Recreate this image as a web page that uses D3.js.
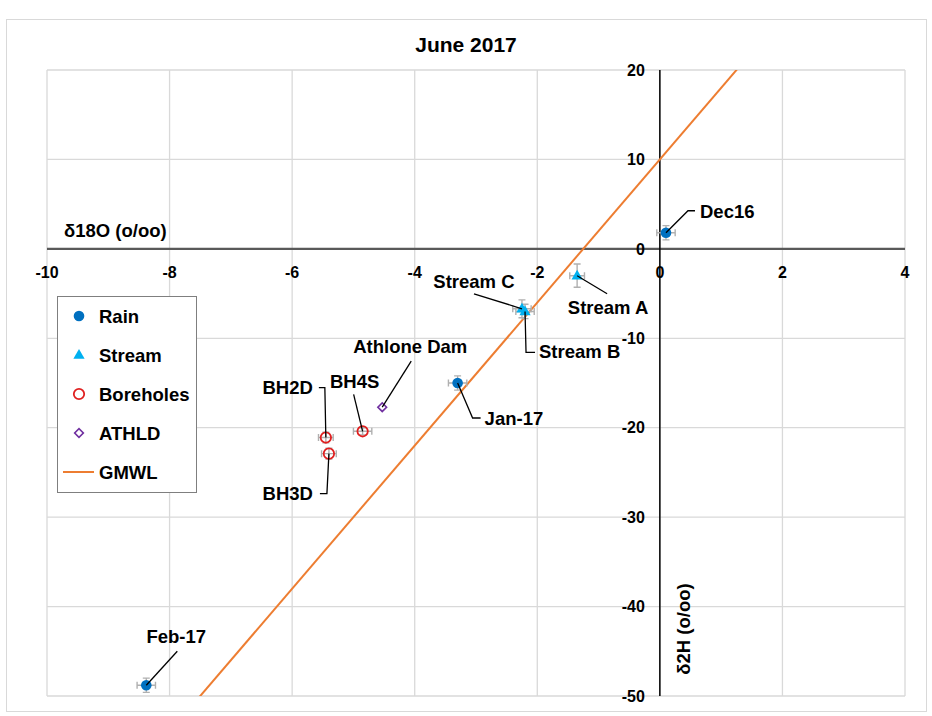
<!DOCTYPE html>
<html>
<head>
<meta charset="utf-8">
<script src="https://d3js.org/d3.v7.min.js"></script>
<style>
  body { margin: 0; background: #fff; }
  text { font-family: Arial, "Liberation Sans", sans-serif; font-weight: bold; fill: #000; }
</style>
</head>
<body>
<div id="chart"></div>
<script>
// sample values (δ18O, δ2H), with error bars
var names  = ["Dec16", "Jan-17", "Feb-17", "Stream A", "Stream B", "Stream C", "BH2D", "BH3D", "BH4S", "Athlone Dam"];
var groups = ["Rain", "Rain", "Rain", "Stream", "Stream", "Stream", "Boreholes", "Boreholes", "Boreholes", "ATHLD"];
var d18O   = [0.1, -3.3, -8.38, -1.35, -2.2, -2.25, -5.45, -5.4, -4.85, -4.53];
var d2H    = [1.8, -15.0, -48.8, -3.0, -7.0, -6.7, -21.1, -22.9, -20.4, -17.7];
var errX   = [0.15, 0.15, 0.15, 0.12, 0.15, 0.15, 0.12, 0.12, 0.15, 0.0];
var errY   = [0.8, 0.8, 0.8, 1.3, 0.8, 1.0, 0.6, 0.6, 0.4, 0.0];

var legendNames = ["Rain", "Stream", "Boreholes", "ATHLD", "GMWL"];
var xTicks = [-10, -8, -6, -4, -2, 0, 2, 4];
var yTicks = [20, 10, 0, -10, -20, -30, -40, -50];
// GMWL: δ2H = 8 δ18O + 10
var gmwlSlope = 8, gmwlIntercept = 10;

var colours = { Rain: "#0070C0", Stream: "#00B0F0", Boreholes: "#E02020", ATHLD: "#7030A0", GMWL: "#ED7D31" };

// label leader lines, pixel offsets from the point
var callouts = {
  "Dec16":       { path: [[22, -22], [29, -22]], text: [34, -21], anchor: "start" },
  "Stream A":    { path: [[30, 18]], text: [31, 32], anchor: "middle" },
  "Stream C":    { path: [[-48, -15]], text: [-48, -27], anchor: "middle" },
  "Stream B":    { path: [[1, 41], [10, 41]], text: [14, 40], anchor: "start" },
  "Jan-17":      { path: [[15, 35], [23, 35]], text: [27, 35], anchor: "start" },
  "Feb-17":      { path: [[31, -34]], text: [30, -49], anchor: "middle" },
  "BH2D":        { path: [[-1, -50], [-7, -50]], text: [-13, -50], anchor: "end" },
  "BH3D":        { path: [[-2, 40], [-9, 40]], text: [-16, 40], anchor: "end" },
  "BH4S":        { path: [[-9, -37]], text: [-8, -50], anchor: "middle" },
  "Athlone Dam": { path: [[29, -46]], text: [28, -61], anchor: "middle" }
};

var W = 932, H = 716;
var plot = { left: 47, right: 905, top: 70, bottom: 696 };

var svg = d3.select("#chart").append("svg")
  .attr("width", W)
  .attr("height", H);

svg.append("rect")
  .attr("x", 6.5).attr("y", 19.5)
  .attr("width", 920).attr("height", 692)
  .attr("fill", "#fff")
  .attr("stroke", "#d9d9d9");

var x = d3.scaleLinear().domain([-10, 4]).range([plot.left, plot.right]);
var y = d3.scaleLinear().domain([-50, 20]).range([plot.bottom, plot.top]);

svg.append("text")
  .attr("x", 466).attr("y", 52)
  .attr("text-anchor", "middle")
  .style("font-size", "21px")
  .text("June 2017");

// gridlines
var grid = svg.append("g").attr("stroke", "#d9d9d9").attr("stroke-width", 1.3);
grid.selectAll(".gx").data(xTicks).enter().append("line")
  .attr("x1", function (d) { return x(d); }).attr("x2", function (d) { return x(d); })
  .attr("y1", plot.top).attr("y2", plot.bottom);
grid.selectAll(".gy").data(yTicks).enter().append("line")
  .attr("y1", function (d) { return y(d); }).attr("y2", function (d) { return y(d); })
  .attr("x1", plot.left).attr("x2", plot.right);

// axes crossing at zero
svg.append("line")
  .attr("x1", plot.left).attr("x2", plot.right)
  .attr("y1", y(0)).attr("y2", y(0))
  .attr("stroke", "#595959").attr("stroke-width", 2.2);
svg.append("line")
  .attr("x1", x(0)).attr("x2", x(0))
  .attr("y1", plot.top).attr("y2", plot.bottom)
  .attr("stroke", "#000").attr("stroke-width", 1.5);

svg.selectAll(".xl").data(xTicks).enter().append("text")
  .attr("x", function (d) { return x(d); })
  .attr("y", y(0) + 29)
  .attr("text-anchor", "middle")
  .style("font-size", "16px")
  .text(function (d) { return d; });

svg.selectAll(".yl").data(yTicks).enter().append("text")
  .attr("x", x(0) - 15)
  .attr("y", function (d) { return y(d); })
  .attr("dy", "0.36em")
  .attr("text-anchor", "end")
  .style("font-size", "16px")
  .text(function (d) { return d; });

svg.append("text")
  .attr("x", 64).attr("y", 237)
  .style("font-size", "18.5px")
  .text("δ18O (o/oo)");

svg.append("text")
  .attr("transform", "translate(690," + 629 + ") rotate(-90)")
  .attr("text-anchor", "middle")
  .style("font-size", "18.5px")
  .text("δ2H (o/oo)");

// GMWL line, clipped to plot area
svg.append("clipPath").attr("id", "clip").append("rect")
  .attr("x", plot.left).attr("y", plot.top)
  .attr("width", plot.right - plot.left).attr("height", plot.bottom - plot.top);
svg.append("line")
  .attr("clip-path", "url(#clip)")
  .attr("x1", x(-10)).attr("y1", y(gmwlSlope * -10 + gmwlIntercept))
  .attr("x2", x(4)).attr("y2", y(gmwlSlope * 4 + gmwlIntercept))
  .attr("stroke", colours.GMWL).attr("stroke-width", 2);

var pts = names.map(function (n, i) {
  return { name: n, group: groups[i], x: d18O[i], y: d2H[i], ex: errX[i], ey: errY[i] };
});

// error bars
var eb = svg.append("g").attr("stroke", "#b0b0b0").attr("stroke-width", 1.4).attr("fill", "none");
pts.forEach(function (p) {
  if (p.ey > 0) {
    var cx = x(p.x), y0 = y(p.y - p.ey), y1 = y(p.y + p.ey);
    eb.append("path").attr("d", "M" + cx + "," + y0 + "V" + y1 +
      "M" + (cx - 3.5) + "," + y0 + "H" + (cx + 3.5) + "M" + (cx - 3.5) + "," + y1 + "H" + (cx + 3.5));
  }
  if (p.ex > 0) {
    var cy = y(p.y), x0 = x(p.x - p.ex), x1 = x(p.x + p.ex);
    eb.append("path").attr("d", "M" + x0 + "," + cy + "H" + x1 +
      "M" + x0 + "," + (cy - 3.5) + "V" + (cy + 3.5) + "M" + x1 + "," + (cy - 3.5) + "V" + (cy + 3.5));
  }
});

function drawSymbol(g, group, cx, cy) {
  var c = colours[group];
  if (group === "Rain") {
    g.append("circle").attr("cx", cx).attr("cy", cy).attr("r", 5.3).attr("fill", c);
  } else if (group === "Stream") {
    g.append("path").attr("d", d3.symbol().type(d3.symbolTriangle).size(55))
      .attr("transform", "translate(" + cx + "," + (cy + 0.5) + ")").attr("fill", c);
  } else if (group === "Boreholes") {
    g.append("circle").attr("cx", cx).attr("cy", cy).attr("r", 5.2)
      .attr("fill", "none").attr("stroke", c).attr("stroke-width", 1.8);
  } else if (group === "ATHLD") {
    g.append("path").attr("d", d3.symbol().type(d3.symbolSquare).size(38))
      .attr("transform", "translate(" + cx + "," + cy + ") rotate(45)")
      .attr("fill", "none").attr("stroke", c).attr("stroke-width", 1.6);
  } else if (group === "GMWL") {
    g.append("line").attr("x1", cx - 16).attr("x2", cx + 15).attr("y1", cy).attr("y2", cy)
      .attr("stroke", c).attr("stroke-width", 2);
  }
}

var marks = svg.append("g");
pts.forEach(function (p) { drawSymbol(marks, p.group, x(p.x), y(p.y)); });

// callouts
var ann = svg.append("g");
pts.forEach(function (p) {
  var c = callouts[p.name];
  var px = x(p.x), py = y(p.y);
  var line = d3.line()([[px, py]].concat(c.path.map(function (o) { return [px + o[0], py + o[1]]; })));
  ann.append("path").attr("d", line).attr("fill", "none").attr("stroke", "#000").attr("stroke-width", 1.3);
  ann.append("text")
    .attr("x", px + c.text[0]).attr("y", py + c.text[1])
    .attr("dy", "0.36em")
    .attr("text-anchor", c.anchor)
    .style("font-size", "18.5px")
    .text(p.name);
});

// legend
var lg = svg.append("g");
lg.append("rect")
  .attr("x", 57.5).attr("y", 296.5).attr("width", 139).attr("height", 196)
  .attr("fill", "#fff").attr("stroke", "#7f7f7f").attr("stroke-width", 1);
legendNames.forEach(function (n, i) {
  var cy = 316 + i * 39;
  drawSymbol(lg, n, 79, cy);
  lg.append("text").attr("x", 99).attr("y", cy).attr("dy", "0.36em")
    .style("font-size", "18.5px").text(n);
});
</script>
</body>
</html>
